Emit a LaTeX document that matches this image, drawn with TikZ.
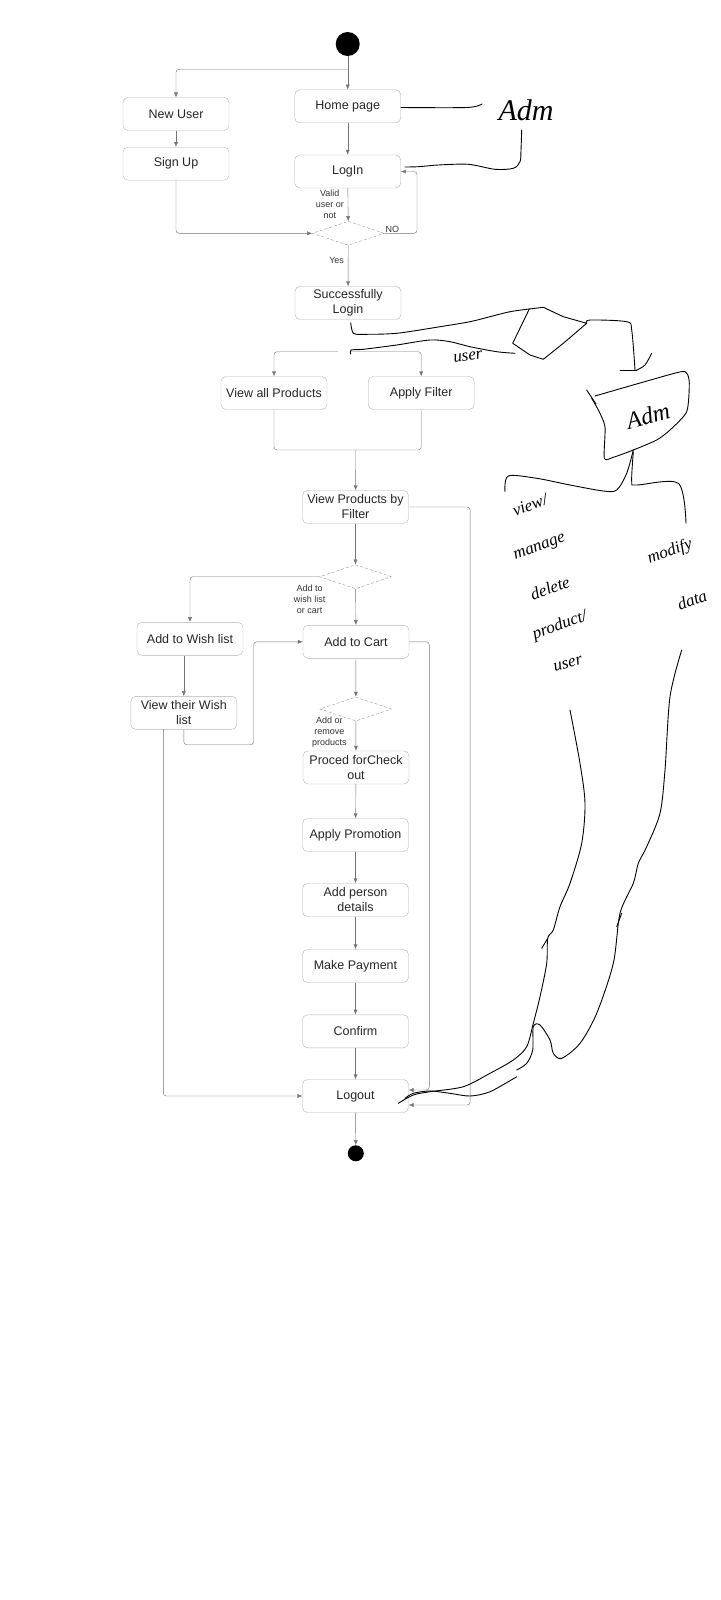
\documentclass[tikz,border=0pt]{standalone}
\usepackage{fontspec}
\setmainfont{Liberation Sans}
\newfontfamily\handfont{Liberation Serif}
\usetikzlibrary{arrows.meta,shapes.geometric,positioning}

\tikzset{
  act/.style={draw=black!30, rounded corners=5pt, minimum width=106pt, minimum height=33pt,
    inner sep=1pt, align=center, text=black!85, font=\fontsize{12.5}{15}\selectfont},
  dec/.style={diamond, draw=black!40, densely dashed, minimum width=72pt, minimum height=24pt, inner sep=0pt},
  dot/.style={circle, fill=black, inner sep=0pt},
  conn/.style={draw=black!55, rounded corners=3pt, -{Latex[length=5pt,width=4pt]}},
  wire/.style={draw=black!55, rounded corners=3pt},
  lbl/.style={inner sep=1pt, align=center, text=black!80, font=\fontsize{9}{11}\selectfont},
  pen/.style={black, line width=0.9pt, line cap=round, line join=round},
  hand/.style={inner sep=0pt, font=\handfont\itshape\fontsize{17}{17}\selectfont}
}

\begin{document}
\begin{tikzpicture}[x=1pt,y=-1pt]
\useasboundingbox (0,0) rectangle (720,1600);

% start and login part
\node[dot, minimum size=24pt] (start) at (347.7,44) {};
\node[act] (home) at (347.7,106.3) {Home page};
\node[act] (newuser) at (176,114) {New User};
\node[act] (signup) at (176,163.7) {Sign Up};
\node[act] (login) at (347.7,171.5) {LogIn};
\node[dec] (dec1) at (348.3,233.3) {};
\node[act] (succ) at (348,303) {Successfully\\Login};

% products
\node[act] (vap) at (274,393) {View all Products};
\node[act] (af) at (421.2,393) {Apply Filter};
\node[act] (vpf) at (355.5,507) {View Products by\\Filter};
\node[dec] (dec2) at (355.5,576.7) {};
\node[act] (wish) at (190,638.8) {Add to Wish list};
\node[act] (cart) at (356,641.8) {Add to Cart};
\node[act] (vwish) at (183.8,712.8) {View their Wish\\list};
\node[dec] (dec3) at (355.8,709) {};

% checkout
\node[act] (chk) at (356,767.5) {Proced forCheck\\out};
\node[act] (promo) at (355.5,835) {Apply Promotion};
\node[act] (person) at (355.5,900) {Add person\\details};
\node[act] (pay) at (355.5,966) {Make Payment};
\node[act] (conf) at (355.5,1031.3) {Confirm};
\node[act] (logout) at (355.5,1096) {Logout};
\node[dot, minimum size=16pt] (end) at (355.8,1153.3) {};

\coordinate (split1) at (347.7,69.3);
\coordinate (noturn) at (417,233.3);
\coordinate (forkL) at (338,351.7);
\coordinate (forkR) at (351,351.7);
\coordinate (merge) at (355.8,450);
\coordinate (wl1) at (253.7,744.7);
\coordinate (vwl) at (163.3,729);
\coordinate (cartR) at (429.3,1090);
\coordinate (vpfR) at (470.1,1105);

\draw[conn] (start) -- (home);
\draw[conn] (split1) -| (newuser);
\draw[conn] (newuser) -- (signup);
\draw[conn] (home) -- (login);
\draw[conn] (signup) |- (dec1);
\draw[conn] (login) -- node[lbl, left=3pt]{Valid\\user or\\not} (dec1);
\draw[conn] (dec1) -- (noturn) |- (login);
\node[lbl, above right] at (dec1.east) {NO};
\draw[conn] (dec1) -- node[lbl, left=3pt, pos=0.36]{Yes} (succ);

\draw[conn] (forkL) -| (vap);
\draw[conn] (forkR) -| (af);
\draw[wire] (vap) |- (merge) -| (af);
\draw[conn] (merge) -- (vpf);
\draw[conn] (vpf) -- (dec2);
\draw[conn] (dec2) -| (wish);
\draw[conn] (dec2) -- node[lbl, left=29pt, pos=0.3]{Add to\\wish list\\or cart} (cart);
\draw[conn] (wish.south -| vwish) -- (vwish);
\draw[conn] (vwish) |- (wl1) |- (cart);
\draw[conn] (cart) -- (dec3);
\draw[conn] (dec3) -- node[lbl, left=8pt, pos=0.37]{Add or\\remove\\products} (chk);
\draw[conn] (chk) -- (promo);
\draw[conn] (promo) -- (person);
\draw[conn] (person) -- (pay);
\draw[conn] (pay) -- (conf);
\draw[conn] (conf) -- (logout);
\draw[conn] (logout) -- (end);
\draw[conn] (vwl) |- (logout);
\draw[conn] (cart) -| (cartR) -- (cartR -| logout.east);
\draw[conn] (vpf) -| (vpfR) -- (vpfR -| logout.east);

% pen notes
\node[hand, font=\handfont\itshape\fontsize{30}{30}\selectfont] (adm1) at (526,110) {Adm};
\node[hand, rotate=8] (user1) at (468,357) {user};
\node[hand, rotate=15, font=\handfont\itshape\fontsize{24}{24}\selectfont] (adm2) at (648,416) {Adm};
\node[hand, rotate=20] (viewtxt) at (530,505) {view/};
\node[hand, rotate=20] (managetxt) at (540,548) {manage};
\node[hand, rotate=20] (deletetxt) at (550,588) {delete};
\node[hand, rotate=20] (producttxt) at (560,626) {product/};
\node[hand, rotate=15] (user2) at (568,664) {user};
\node[hand, rotate=20] (modifytxt) at (670,552) {modify};
\node[hand, rotate=20] (datatxt) at (692,600) {data};

\draw[pen] plot[smooth] coordinates {(401,107.5) (467,107.5) (482,104)};
\draw[pen] plot[smooth] coordinates {(521.7,130) (521,150) (520,161.7) (513.3,168.3) (495,169.3)
  (468.3,164.3) (438.3,165) (418.3,166.7) (405,167)};
\draw[pen] plot[smooth] coordinates {(350.7,322.7) (353.3,333.3) (363.3,334.3) (396.7,333.3)
  (440,326.7) (470,321.7) (490,316.7) (510,311.7) (529.3,309)};
\draw[pen] (529.3,309) -- (543.3,307.3) -- (563.3,316.7) -- (586.7,323.3) -- (563.3,343.3)
  -- (543.3,359.3) -- (530,355) -- (512.7,343.3) -- cycle;
\draw[pen] plot[smooth] coordinates {(586.7,323.3) (590,320) (626.7,321.7) (631.7,330) (635,370)};
\draw[pen] (620,370) -- (636.7,370);
\draw[pen] plot[smooth] coordinates {(636.7,370) (645,365) (651.7,353.3)};
\draw[pen] plot[smooth] coordinates {(350.7,354) (351,350) (363.3,349.3) (396.7,345) (430,340)
  (450,341.7) (470,346.7) (496.7,351.7) (515,353.3)};
\draw[pen] plot[smooth, tension=0.4] coordinates {(595,396) (676.7,372.7) (686.7,373.3) (689.3,383.3)
  (686.7,411.7) (670,430) (656.7,440) (633.3,450) (613.3,457.3) (604.3,458.3) (605,426.7)
  (598.3,410) (591.7,398.3)};
\draw[pen] (586.7,390) -- (596,404);
\draw[pen] plot[smooth] coordinates {(633.3,450) (626.7,473.3) (616.7,490) (603.3,491) (570,485)
  (536.7,478.3) (508.3,476) (505,491.7)};
\draw[pen] plot[smooth] coordinates {(633.3,452) (631.7,481.7) (636.7,485) (678.3,483.3) (686,523.3)};
\draw[pen] plot[smooth] coordinates {(570,710) (580,763.3) (585,803.3) (581.7,843.3) (570,883.3)
  (560,906.7) (553.3,930) (547.7,938.3) (546.7,963.3) (540,996.7) (533.3,1023.3) (526.7,1046.7)
  (513.3,1060) (490,1073.3) (463.3,1086.7) (430,1091.7) (413.3,1095) (398.3,1103.3)};
\draw[pen] (541.7,948.3) -- (547.7,938.3);
\draw[pen] plot[smooth] coordinates {(681.7,650) (670,696.7) (665,770) (660,813.3) (646.7,846.7)
  (638.3,863.3) (633.3,883.3) (620,913.3) (613.3,963.3) (596.7,1013.3) (580,1043.3) (561.7,1058.3)
  (553.3,1053.3) (550,1040) (540,1025) (533.3,1026.7) (532.7,1050) (526.7,1063.3) (516.7,1070)};
\draw[pen] (616.7,926.7) -- (621.7,913.3);
\draw[pen] plot[smooth] coordinates {(516.7,1076.7) (490,1091.7) (470,1096) (450,1093.3) (430,1091)
  (413.3,1093.3) (405,1098.3)};
\end{tikzpicture}
\end{document}
